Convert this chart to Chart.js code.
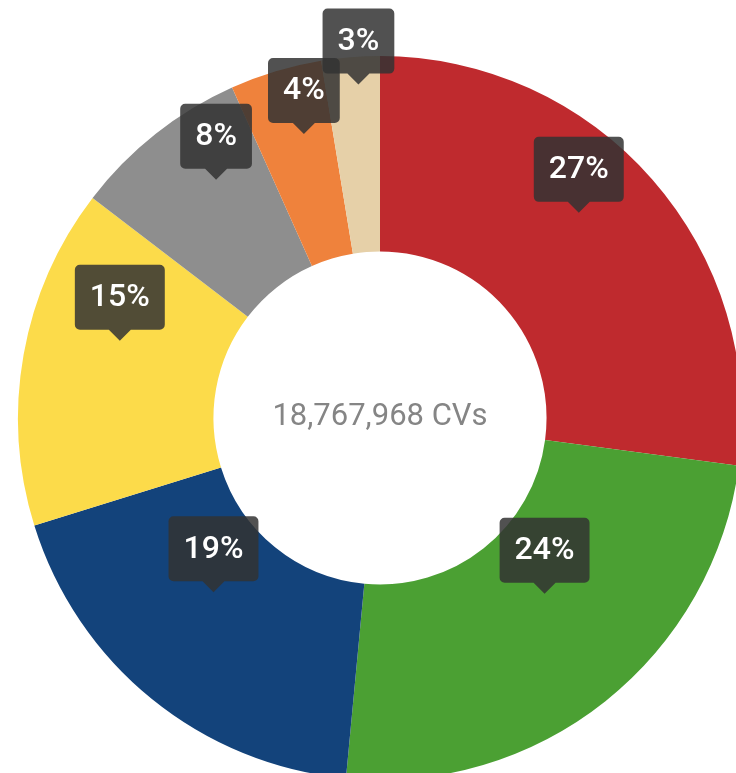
<!DOCTYPE html>
<html>
<head>
<meta charset="utf-8">
<script src="https://cdn.jsdelivr.net/npm/chart.js@4"></script>
<style>
  html, body { margin: 0; padding: 0; background: #fff; overflow: hidden; }
  #wrap { position: absolute; left: 0; top: 0; }
</style>
</head>
<body>
<div id="wrap"><canvas id="chart" width="760" height="800"></canvas></div>
<script>
// ── Data ──────────────────────────────────────────────────────────────────────
const categories = ['Red', 'Green', 'Blue', 'Yellow', 'Grey', 'Orange', 'Beige'];
const shares     = [27.1, 24.4, 18.7, 15.2, 7.9, 4.1, 2.6];
const colors     = ['#bf2a2e', '#4ba033', '#13437b', '#fcdb4a', '#8e8e8e', '#ef823c', '#e6d0a8'];
const totalLabel = '18,767,968 CVs';

// ── Label plugin (dark callout boxes + centre text) ──────────────────────────
const calloutPlugin = {
  id: 'callouts',
  afterDraw(chart) {
    const ctx   = chart.ctx;
    const meta  = chart.getDatasetMeta(0);
    const total = shares.reduce((a, b) => a + b, 0);
    const placed = [];

    ctx.save();
    ctx.font = '500 32px Roboto';
    ctx.textAlign = 'center';
    ctx.textBaseline = 'middle';

    meta.data.forEach((arc, i) => {
      const p    = arc.tooltipPosition();
      const text = Math.round(shares[i] / total * 100) + '%';
      const w    = ctx.measureText(text).width + 30;
      const h    = 65;
      let tipY   = p.y - 31;
      let box    = { x: p.x - w / 2, y: tipY - 11 - h, w, h };

      // nudge up when it collides with the previous callout
      const prev = placed[placed.length - 1];
      if (prev && box.x < prev.x + prev.w && box.x + w > prev.x &&
          box.y < prev.y + prev.h && box.y + h > prev.y) {
        tipY  -= 39;
        box.y -= 39;
      }
      placed.push(box);

      ctx.fillStyle = 'rgba(51,51,51,0.85)';
      ctx.beginPath();
      ctx.roundRect(box.x, box.y, w, h, 5);
      ctx.moveTo(p.x - 11, box.y + h);
      ctx.lineTo(p.x, tipY);
      ctx.lineTo(p.x + 11, box.y + h);
      ctx.closePath();
      ctx.fill();

      ctx.fillStyle = '#ffffff';
      ctx.fillText(text, p.x, box.y + h / 2 + 1);
    });

    // centre text
    const a = chart.chartArea;
    ctx.font = '400 31px Roboto';
    ctx.fillStyle = '#858585';
    ctx.fillText(totalLabel, (a.left + a.right) / 2, (a.top + a.bottom) / 2 - 1);
    ctx.restore();
  },
};

new Chart(document.getElementById('chart'), {
  type: 'doughnut',
  data: {
    labels: categories,
    datasets: [{
      data:            shares,
      backgroundColor: colors,
      borderWidth:     0,
    }],
  },
  options: {
    responsive: false,
    animation:  false,
    cutout:     '46%',
    layout: { padding: { left: 18, top: 56, right: 18, bottom: 20 } },
    plugins: {
      legend:  { display: false },
      tooltip: { enabled: false },
    },
  },
  plugins: [calloutPlugin],
});
</script>
</body>
</html>
